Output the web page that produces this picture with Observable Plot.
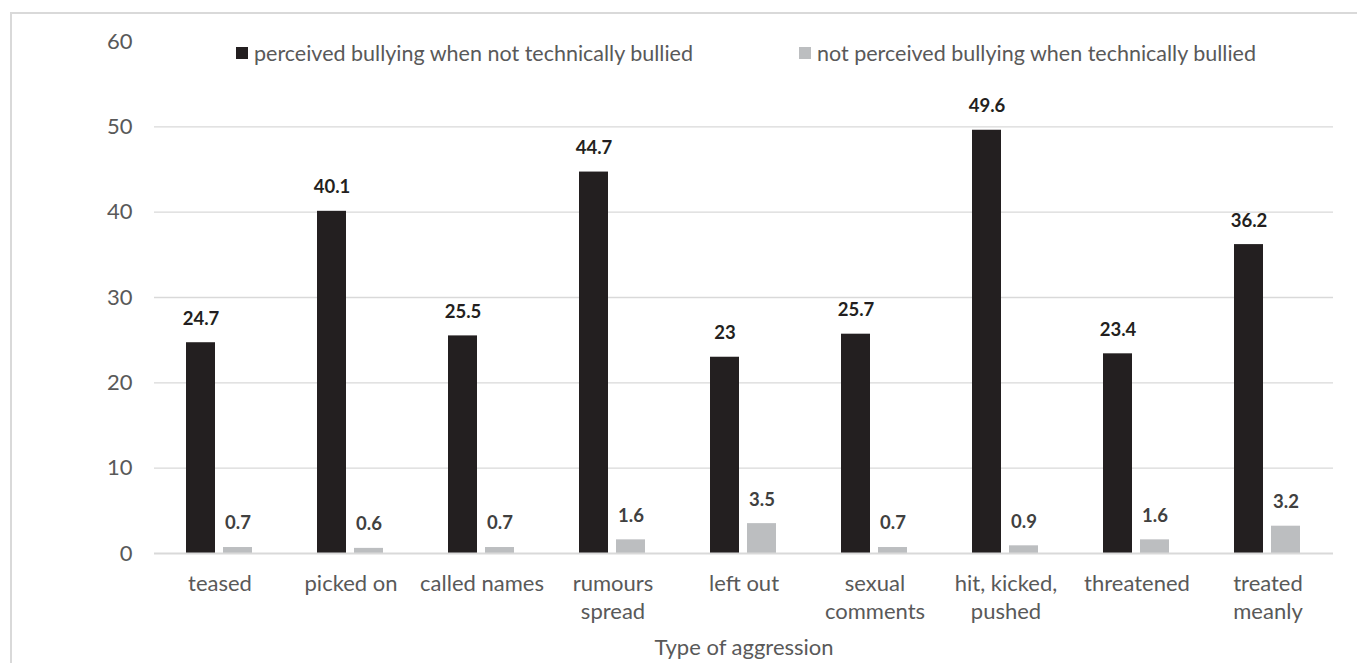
<!DOCTYPE html>
<html>
<head>
<meta charset="utf-8">
<script src="https://cdn.jsdelivr.net/npm/d3@7"></script>
<script src="https://cdn.jsdelivr.net/npm/@observablehq/plot@0.6"></script>
<style>
  html, body { margin: 0; padding: 0; background: #fff; overflow: hidden; }
  #wrap { position: relative; width: 1357px; height: 663px; font-family: Lato, "Open Sans", sans-serif; }
  #frame { position: absolute; left: 10px; top: 12px; width: 1400px; height: 700px; border-left: 2px solid #d9d9d9; border-top: 2px solid #d9d9d9; box-sizing: border-box; }
  .lg { position: absolute; top: 40px; font-size: 21.5px; line-height: 26px; color: #595959; white-space: nowrap; display: flex; align-items: center; }
  .sw { width: 12px; height: 12px; display: inline-block; margin-right: 6px; }
  #chart { position: absolute; left: 0; top: 0; }
</style>
</head>
<body>
<div id="wrap">
  <div id="frame"></div>
  <div id="chart"></div>
  <div id="legend"></div>
</div>
<script>
const categories = ["teased", "picked on", "called names", "rumours spread", "left out", "sexual comments", "hit, kicked, pushed", "threatened", "treated meanly"];
const categoryLabels = ["teased", "picked on", "called names", "rumours\nspread", "left out", "sexual\ncomments", "hit, kicked,\npushed", "threatened", "treated\nmeanly"];
const seriesNames = ["perceived bullying when not technically bullied", "not perceived bullying when technically bullied"];
const perceivedNotBullied = [24.7, 40.1, 25.5, 44.7, 23, 25.7, 49.6, 23.4, 36.2];
const notPerceivedBullied = [0.7, 0.6, 0.7, 1.6, 3.5, 0.7, 0.9, 1.6, 3.2];
const yTicks = [0, 10, 20, 30, 40, 50, 60];
const gridTicks = [10, 20, 30, 40, 50];
const barColors = ["#231f20", "#bcbec0"];
const labelColors = ["#231f20", "#404040"];

const data = [];
categories.forEach((c, i) => {
  data.push({cat: c, series: seriesNames[0], value: perceivedNotBullied[i]});
  data.push({cat: c, series: seriesNames[1], value: notPerceivedBullied[i]});
});
const labelOf = new Map(categories.map((c, i) => [c, categoryLabels[i]]));

const chart = Plot.plot({
  width: 1357,
  height: 663,
  marginLeft: 152,
  marginRight: 22,
  marginTop: 41,
  marginBottom: 110,
  style: {fontFamily: "Lato, 'Open Sans', sans-serif", background: "transparent"},
  fx: {domain: categories, padding: 0},
  x: {domain: seriesNames, paddingInner: 0.21, paddingOuter: 0.834, axis: null},
  y: {domain: [0, 60]},
  color: {domain: seriesNames, range: barColors},
  marks: [
    Plot.gridY(gridTicks, {stroke: "#d9d9d9", strokeOpacity: 1, strokeWidth: 1.3}),
    Plot.axisY(yTicks, {tickSize: 0, tickPadding: 22, fontSize: 22, color: "#595959", label: null}),
    Plot.axisFx({
      anchor: "bottom",
      tickSize: 0, tickPadding: 18, fontSize: 22, lineHeight: 1.27, color: "#595959",
      tickFormat: d => labelOf.get(d),
      label: "Type of aggression", labelAnchor: "center", labelOffset: 101
    }),
    Plot.barY(data, {fx: "cat", x: "series", y: "value", fill: "series"}),
    Plot.ruleY([0], {stroke: "#d9d9d9", strokeWidth: 2}),
    Plot.text(data, {
      fx: "cat", x: "series", y: "value", text: d => String(d.value),
      dy: -24, fontSize: 18.5, fontWeight: "bold",
      fill: d => d.series === seriesNames[0] ? labelColors[0] : labelColors[1]
    })
  ]
});
document.getElementById("chart").appendChild(chart);

const legend = document.getElementById("legend");
const legendX = [236, 799];
seriesNames.forEach((s, i) => {
  const item = document.createElement("div");
  item.className = "lg";
  item.style.left = legendX[i] + "px";
  const sw = document.createElement("span");
  sw.className = "sw";
  sw.style.background = barColors[i];
  item.appendChild(sw);
  item.appendChild(document.createTextNode(s));
  legend.appendChild(item);
});
</script>
</body>
</html>
